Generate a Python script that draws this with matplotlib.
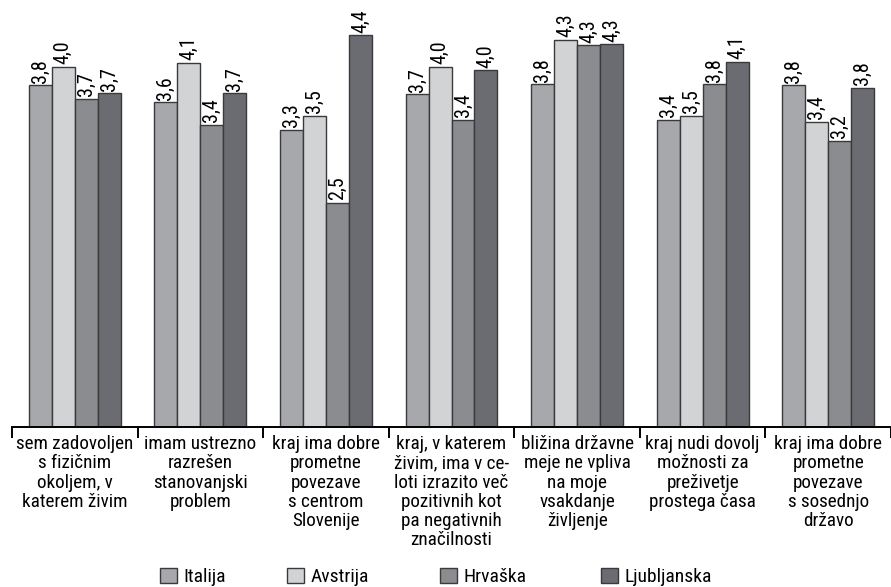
import matplotlib.pyplot as plt
from matplotlib.patches import Patch
import numpy as np

# Podatki
kategorije = [
    "sem zadovoljen\ns fizičnim\nokoljem, v\nkaterem živim",
    "imam ustrezno\nrazrešen\nstanovanjski\nproblem",
    "kraj ima dobre\nprometne\npovezave\ns centrom\nSlovenije",
    "kraj, v katerem\nživim, ima v ce-\nloti izrazito več\npozitivnih kot\npa negativnih\nznačilnosti",
    "bližina državne\nmeje ne vpliva\nna moje\nvsakdanje\nživljenje",
    "kraj nudi dovolj\nmožnosti za\npreživetje\nprostega časa",
    "kraj ima dobre\nprometne\npovezave\ns sosednjo\ndržavo",
]
serije = ["Italija", "Avstrija", "Hrvaška", "Ljubljanska"]
italija = [3.83, 3.64, 3.33, 3.73, 3.84, 3.44, 3.83]
avstrija = [4.04, 4.08, 3.49, 4.04, 4.34, 3.49, 3.42]
hrvaska = [3.68, 3.39, 2.51, 3.44, 4.28, 3.84, 3.21]
ljubljanska = [3.74, 3.74, 4.39, 4.00, 4.29, 4.09, 3.80]

barve = ["#a7a8ac", "#d2d3d5", "#8b8c90", "#6b6c71"]
rob = "#3a3a3c"
pisava = ["Roboto Condensed", "Archivo Narrow", "DejaVu Sans"]

plt.rcParams["font.family"] = pisava

fig = plt.figure(figsize=(8.91, 5.87), dpi=100)
ax = fig.add_axes([12 / 891, (587 - 427) / 587, 1 - 12 / 891, 427 / 587])

x = np.arange(len(kategorije))
w = 0.183
for i, (vals, barva) in enumerate(zip([italija, avstrija, hrvaska, ljubljanska], barve)):
    pos = x + (i - 1.5) * w
    ax.bar(pos, vals, width=w, color=barva, edgecolor=rob, linewidth=1.0, zorder=2)
    for px, v in zip(pos, vals):
        ax.text(px, v + 0.03, f"{v:.1f}".replace(".", ","), rotation=90,
                ha="center", va="bottom", fontsize=14.5)

ax.set_xlim(-0.5, len(kategorije) - 0.5)
ax.set_ylim(0, 427 / 89.2)

for s in ["top", "right", "left"]:
    ax.spines[s].set_visible(False)
ax.spines["bottom"].set_linewidth(1.4)
ax.set_yticks([])

# oznake kategorij na sredini, črtice na mejah skupin
ax.set_xticks(x)
ax.set_xticklabels(kategorije, fontsize=13.8, linespacing=1.08, va="top")
ax.tick_params(axis="x", which="major", length=0, pad=6)
ax.set_xticks(np.arange(len(kategorije) + 1) - 0.5, minor=True)
ax.tick_params(axis="x", which="minor", length=8, width=1.4, direction="out")

# legenda - vsak vnos posebej
leg_x = [160, 287, 440, 601]
for ime, barva, lx in zip(serije, barve, leg_x):
    lg = fig.legend(handles=[Patch(facecolor=barva, edgecolor=rob, linewidth=1.0)],
                    labels=[ime], loc="center left",
                    bbox_to_anchor=(lx / 891, 1 - 577 / 587), frameon=False,
                    fontsize=14, handlelength=0.85, handleheight=0.85,
                    handletextpad=0.35, borderaxespad=0, borderpad=0)

fig.savefig("out.png", dpi=100)
